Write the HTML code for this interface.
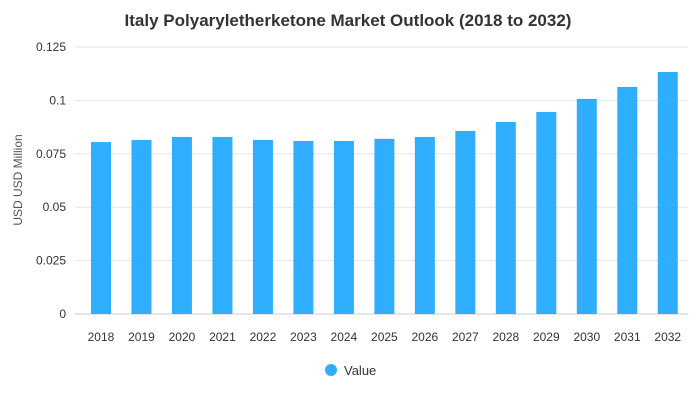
<!DOCTYPE html>
<html><head><meta charset="utf-8"><style>
body{margin:0;background:#fff;font-family:"Liberation Sans",sans-serif;}
</style></head><body>
<svg width="700" height="400" xmlns="http://www.w3.org/2000/svg">
<text x="348" y="26" text-anchor="middle" font-size="17" font-weight="bold" fill="#333">Italy Polyaryletherketone Market Outlook (2018 to 2032)</text>
<text transform="translate(22,180) rotate(-90)" text-anchor="middle" font-size="12" fill="#555">USD USD Million</text>
<g id="grid"></g><g id="bars"></g><g id="xl"></g>
<circle cx="331" cy="370" r="6" fill="#2eaefc"/>
<text x="344" y="375" font-size="13" fill="#333">Value</text>
</svg>
<script>
const categories=["2018","2019","2020","2021","2022","2023","2024","2025","2026","2027","2028","2029","2030","2031","2032"];
const values=[0.0805,0.0815,0.0829,0.0829,0.0815,0.081,0.081,0.082,0.0829,0.0857,0.0899,0.0946,0.1007,0.1063,0.1133];
const ticks=[0,0.025,0.05,0.075,0.1,0.125];
const tickLabels=["0","0.025","0.05","0.075","0.1","0.125"];
const NS="http://www.w3.org/2000/svg";
const y0=314,y1=47,yMax=0.125,gx0=75,x0=80.75,x1=688;
const y=v=>y0-(v/yMax)*(y0-y1);
const step=(x1-x0)/categories.length;
const x=i=>x0+step*(i+0.5);
function mk(t,a,p){const e=document.createElementNS(NS,t);for(const k in a)e.setAttribute(k,a[k]);p.appendChild(e);return e;}
const g=document.getElementById('grid');
ticks.forEach((t,i)=>{
const l=mk('line',{x1:gx0,x2:x1,y1:y(t),y2:y(t),stroke:i==0?'#ccc':'#e6e6e6','stroke-width':1},g);


const tx=mk('text',{x:66,y:y(t)+4,'text-anchor':'end','font-size':12,fill:'#333'},g);
tx.textContent=tickLabels[i];


});
const b=document.getElementById('bars'),xl=document.getElementById('xl');
values.forEach((v,i)=>{
const r=mk('rect',{x:x(i)-10,y:y(v),width:20,height:y0-y(v),fill:'#2eaefc'},b);


const t=mk('text',{x:x(i),y:341,'text-anchor':'middle','font-size':12,fill:'#333'},xl);
t.textContent=categories[i];


});
</script>
</body></html>
